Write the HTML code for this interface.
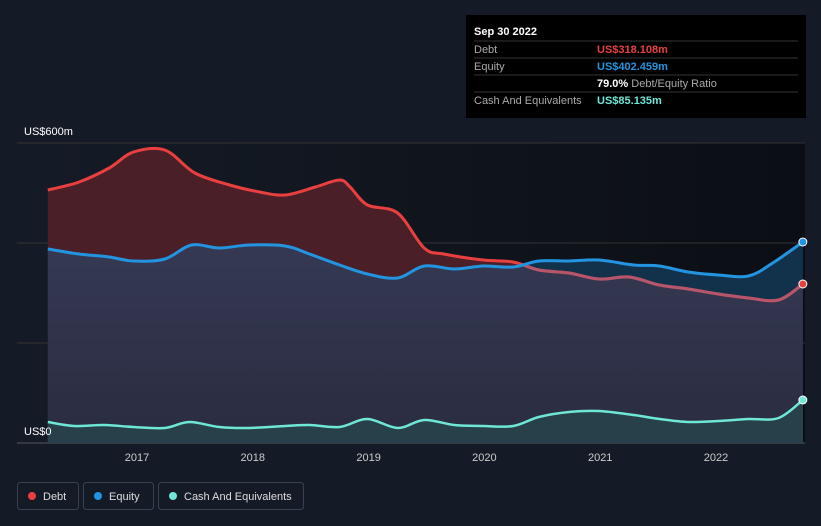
<!DOCTYPE html>
<html><head><meta charset="utf-8"><style>
body{margin:0;background:#151b26;font-family:"Liberation Sans",sans-serif;}
svg{display:block}
</style></head><body>
<svg width="821" height="526" id="c">
<defs>
<linearGradient id="bgg" x1="0" x2="1" y1="0" y2="0"><stop offset="0" stop-color="#151b26"/><stop offset="1" stop-color="#0b0e14"/></linearGradient>
<linearGradient id="ovg" x1="0" x2="0" y1="0" y2="1"><stop offset="0" stop-color="#3a3f5c"/><stop offset="1" stop-color="#2a2c40"/></linearGradient>
<clipPath id="eqclip"><path id="eqclipPath"/></clipPath>
</defs>
<rect x="0" y="0" width="821" height="526" fill="#151b26"/>
<rect x="48" y="143" width="757" height="300" fill="url(#bgg)"/>
<g id="grid"></g>
<g id="marks"></g>
<text x="24" y="135" fill="#ffffff" font-size="11">US$600m</text>
<text x="24" y="435" fill="#ffffff" font-size="11">US$0</text>
<g id="xticks"></g>
<g>
<rect x="466" y="15" width="340" height="103" fill="#000000"/>
<text x="474" y="35" fill="#fff" font-size="11" font-weight="bold">Sep 30 2022</text>
<line x1="474" y1="41" x2="798" y2="41" stroke="#333"/>
<text x="474" y="53" fill="#aaa" font-size="11">Debt</text>
<text x="597" y="53" fill="#e8403f" font-size="11" font-weight="bold">US$318.108m</text>
<line x1="474" y1="58" x2="798" y2="58" stroke="#333"/>
<text x="474" y="70" fill="#aaa" font-size="11">Equity</text>
<text x="597" y="70" fill="#2394df" font-size="11" font-weight="bold">US$402.459m</text>
<line x1="474" y1="75" x2="798" y2="75" stroke="#333"/>
<text x="597" y="87" fill="#fff" font-size="11" font-weight="bold">79.0%<tspan fill="#aaa" font-weight="normal"> Debt/Equity Ratio</tspan></text>
<line x1="474" y1="92" x2="798" y2="92" stroke="#333"/>
<text x="474" y="104" fill="#aaa" font-size="11">Cash And Equivalents</text>
<text x="597" y="104" fill="#6ee7d6" font-size="11" font-weight="bold">US$85.135m</text>
</g>
<g>
<g><rect x="17.5" y="482.5" width="61" height="27" rx="3" fill="none" stroke="#3a4050"/><circle cx="32" cy="496" r="4" fill="#e8403f"/><text x="43" y="500" fill="#ddd" font-size="11">Debt</text></g>
<g><rect x="83.5" y="482.5" width="70" height="27" rx="3" fill="none" stroke="#3a4050"/><circle cx="98" cy="496" r="4" fill="#2394df"/><text x="109" y="500" fill="#ddd" font-size="11">Equity</text></g>
<g><rect x="158.5" y="482.5" width="145" height="27" rx="3" fill="none" stroke="#3a4050"/><circle cx="173" cy="496" r="4" fill="#6ee7d6"/><text x="184" y="500" fill="#ddd" font-size="11">Cash And Equivalents</text></g>
</g>
</svg>
<script>
const dates=[2016.23,2016.5,2016.76,2016.97,2017.24,2017.5,2017.8,2018.06,2018.28,2018.54,2018.75,2018.84,2018.99,2019.25,2019.48,2019.65,2019.99,2020.25,2020.47,2020.73,2020.99,2021.25,2021.51,2021.76,2022.02,2022.28,2022.54,2022.75];
const debt=[506,522,550,582,586,540,516,502,496,512,526,512,476,460,390,378,366,362,346,340,328,332,316,308,298,290,286,318];
const eqDates=[2016.23,2016.5,2016.76,2016.97,2017.24,2017.47,2017.71,2017.97,2018.28,2018.49,2018.75,2018.99,2019.25,2019.48,2019.74,2019.99,2020.25,2020.47,2020.73,2020.99,2021.29,2021.51,2021.76,2022.02,2022.28,2022.49,2022.75];
const equity=[388,378,372,364,368,396,390,396,394,378,356,338,330,354,348,354,352,364,364,366,356,354,342,336,334,360,402];
const cashDates=[2016.23,2016.46,2016.72,2016.97,2017.24,2017.45,2017.71,2017.97,2018.28,2018.49,2018.75,2018.99,2019.25,2019.48,2019.74,2019.99,2020.25,2020.47,2020.73,2020.99,2021.29,2021.51,2021.76,2022.02,2022.28,2022.54,2022.75];
const cash=[42,34,36,32,30,42,32,30,34,36,32,48,30,46,36,34,34,52,62,64,56,48,42,44,48,50,86];
const yearTicks=[2017,2018,2019,2020,2021,2022];
const gridVals=[0,200,400,600];
const X=t=>137+(t-2017)*115.8;
const Y=v=>443-v*0.5;
const NS="http://www.w3.org/2000/svg";
function el(tag,attrs,parent){const e=document.createElementNS(NS,tag);for(const k in attrs)e.setAttribute(k,attrs[k]);parent.appendChild(e);return e;}
function linePath(ts,vs){
  const p=ts.map((t,i)=>[X(t),Y(vs[i])]);
  let d='M'+p[0][0].toFixed(1)+','+p[0][1].toFixed(1);
  for(let i=0;i<p.length-1;i++){
    const p0=p[Math.max(0,i-1)],p1=p[i],p2=p[i+1],p3=p[Math.min(p.length-1,i+2)];
    const c1=[p1[0]+(p2[0]-p0[0])/6,p1[1]+(p2[1]-p0[1])/6],c2=[p2[0]-(p3[0]-p1[0])/6,p2[1]-(p3[1]-p1[1])/6];
    d+='C'+c1[0].toFixed(1)+','+c1[1].toFixed(1)+' '+c2[0].toFixed(1)+','+c2[1].toFixed(1)+' '+p2[0].toFixed(1)+','+p2[1].toFixed(1);
  }
  return d;}
function areaPath(ts,vs){return linePath(ts,vs)+'L'+X(ts[ts.length-1]).toFixed(1)+','+Y(0)+'L'+X(ts[0]).toFixed(1)+','+Y(0)+'Z';}
const grid=document.getElementById('grid');
gridVals.forEach(v=>{const l=el('line',{x1:17,x2:805,y1:Y(v),y2:Y(v),stroke:v===0?'#555':'#333','stroke-width':1},grid);

});
const xt=document.getElementById('xticks');
yearTicks.forEach(y=>{const t=el('text',{x:X(y),y:461,fill:'#ccc','font-size':11,'text-anchor':'middle'},xt);t.textContent=y;

});
document.getElementById('eqclipPath').setAttribute('d',areaPath(eqDates,equity));
const m=document.getElementById('marks');
const da=el('path',{d:areaPath(dates,debt),fill:'#4a1f27'},m);


const ea=el('path',{d:areaPath(eqDates,equity),fill:'#12324c'},m);


const ov=el('path',{d:areaPath(dates,debt),fill:'url(#ovg)','clip-path':'url(#eqclip)'},m);


const ca=el('path',{d:areaPath(cashDates,cash),fill:'#27404a'},m);


const dl=el('path',{d:linePath(dates,debt),fill:'none',stroke:'#e8403f','stroke-width':3},m);


const dl2=el('path',{d:linePath(dates,debt),fill:'none',stroke:'#b5566b','stroke-width':3,'clip-path':'url(#eqclip)'},m);


const el2=el('path',{d:linePath(eqDates,equity),fill:'none',stroke:'#2394df','stroke-width':3},m);


const cl=el('path',{d:linePath(cashDates,cash),fill:'none',stroke:'#6ee7d6','stroke-width':2.5},m);


[[dates,debt,'#e8403f','debt-end-point'],[eqDates,equity,'#2394df','equity-end-point'],[cashDates,cash,'#6ee7d6','cash-end-point']].forEach(([ts,vs,c,n])=>{
const p=el('circle',{cx:X(ts[ts.length-1]),cy:Y(vs[vs.length-1]),r:4,fill:c,stroke:'#fff','stroke-width':1},m);

});
</script>
</body></html>
